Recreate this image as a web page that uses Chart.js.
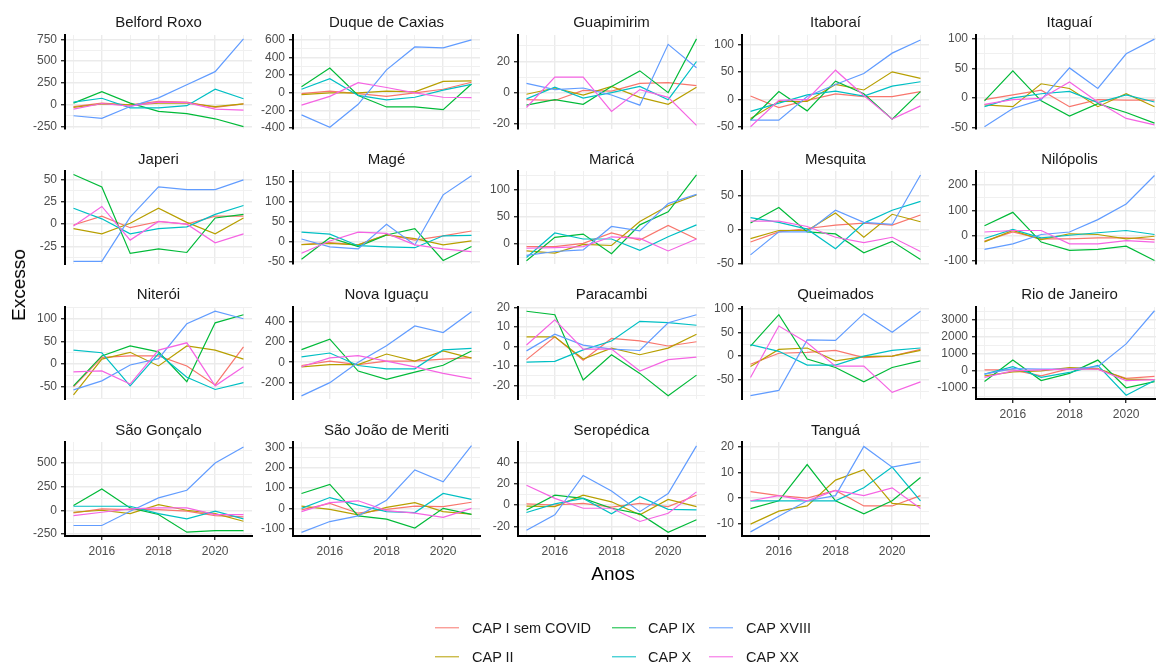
<!DOCTYPE html>
<html><head><meta charset="utf-8">
<script src="https://cdn.jsdelivr.net/npm/chart.js@4.4.0/dist/chart.umd.min.js"></script>
<style>
html,body{margin:0;padding:0;background:#fff;width:1156px;height:668px;overflow:hidden;position:relative;font-family:"Liberation Sans",Arial,sans-serif;}
canvas{position:absolute;}
.strip{position:absolute;font-size:15px;color:#1a1a1a;white-space:nowrap;transform:translate(-50%,-50%);}
.axt{position:absolute;font-size:19px;color:#000;white-space:nowrap;transform:translate(-50%,-50%);}
.lg{position:absolute;font-size:14.5px;color:#1a1a1a;white-space:nowrap;transform:translateY(-50%);}
.key{position:absolute;height:1.4px;width:24px;transform:translateY(-50%);}
</style></head><body>
<script>
// ---------------- DATA ----------------
const years = [2015, 2016, 2017, 2018, 2019, 2020, 2021];
const seriesNames = ["CAP I sem COVID", "CAP II", "CAP IX", "CAP X", "CAP XVIII", "CAP XX"];
const panelNames = ["Belford Roxo","Duque de Caxias","Guapimirim","Itaboraí","Itaguaí",
  "Japeri","Magé","Maricá","Mesquita","Nilópolis",
  "Niterói","Nova Iguaçu","Paracambi","Queimados","Rio de Janeiro",
  "São Gonçalo","São João de Meriti","Seropédica","Tanguá"];

// each panel: rows in seriesNames order, columns in years order
const belfordRoxo = [
  [-20, 20, 0, 40, 30, -30, 10],
  [-30, 10, 0, 20, 20, -20, 10],
  [20, 150, 20, -75, -100, -160, -250],
  [30, 75, -35, -35, -10, 180, 70],
  [-125, -155, -20, 80, 230, 380, 755],
  [-50, 15, -15, 30, 25, -50, -60]];
const duqueDeCaxias = [
  [-10, 20, -10, -40, 0, 40, 120],
  [-20, 0, 0, 20, 10, 130, 135],
  [70, 280, -30, -160, -160, -190, 100],
  [40, 160, -30, -80, -50, 30, 95],
  [-250, -390, -130, 260, 520, 510, 600],
  [-140, -40, 115, 60, 0, -50, -55]];
const guapimirim = [
  [-4.5, -5, 1.5, 1, 6, 6.5, 4.5],
  [-1, 3, -1.5, 4, -3, -7.5, 3.5],
  [-8, -4.5, -7.5, 4, 14, 0, 34.5],
  [-4, 3.5, -3.5, 0, 4, -4.5, 20],
  [6, 2, 3, -1.5, -8, 31, 16],
  [-9.5, 10, 10, -12, 2, -3, -21]];
const itaborai = [
  [6, -15, -2, 10, 5, 5, 14],
  [-35, -4, -4, 27, 17, 50, 38],
  [-38, 14, -21, 33, 10, -36, 14],
  [-22, -7, 8, 15, 6, 24, 32],
  [-38, -38, 5, 27, 47, 84, 108],
  [-50, -2, 0, 53, 7, -36, -12]];
const itaguai = [
  [-3, 5, 13, -15, -3, -4, -4],
  [-12, -15, 24, 16, -15, 7, -15],
  [-5, 46, -5, -31, -10, -25, -43],
  [-15, 0, 7, 11, -8, 5, -7],
  [-49, -18, -3, 51, 16, 75, 100],
  [-11, -3, -1, 27, -7, -35, -46]];
const japeri = [
  [-1, 9, -4, 3, 0, 9, 9],
  [-5, -11, 1, 18, 2, -11, 7],
  [56, 42, -33, -28, -32, 7, 11],
  [18, 6, -11, -5, -3, 11, 21],
  [-42, -42, 8, 42, 39, 39, 50],
  [-2, 20, -18, 3, 0, -21, -11]];
const mage = [
  [-7, -2, -8, 18, 4, 15, 27],
  [-7, -4, -8, 17, 8, -8, 2],
  [-44, 10, -12, 17, 33, -47, -12],
  [24, 19, -10, -13, -15, 15, 16],
  [7, -13, -18, 44, -8, 118, 166],
  [-29, 2, 24, 21, -8, -18, -25]];
const marica = [
  [-5, -5, 1, 20, 7, 34, 9],
  [-13, -17, -1, -3, 41, 70, 90],
  [-31, 12, 18, -18, 35, 59, 127],
  [-25, 20, 9, 9, -12, 13, 35],
  [-21, -14, -11, 32, 24, 74, 91],
  [-8, -7, -5, 13, 10, -13, 9]];
const mesquita = [
  [-18, -3, 2, 7, 10, 7, 22],
  [-13, -1, -1, 25, -11, 23, 12],
  [10, 33, -3, -6, -34, -17, -44],
  [18, 11, 1, -28, 10, 29, 42],
  [-37, -3, -3, 29, 11, 8, 81],
  [13, 13, 5, -11, -19, -11, -32]];
const nilopolis = [
  [-22, 14, -13, -13, -9, -9, -16],
  [-25, 20, -16, 7, 4, -13, -3],
  [39, 92, -26, -59, -55, -42, -99],
  [-12, 24, -9, 1, 11, 20, 4],
  [-55, -33, 4, 14, 63, 125, 238],
  [14, 20, 20, -33, -33, -20, -26]];
const niteroi = [
  [-50, 15, 18, 18, -4, -46, 38],
  [-68, 11, 26, -4, 40, 31, 11],
  [-48, 18, 40, 27, -39, 91, 109],
  [31, 25, -48, 23, -29, -56, -41],
  [-57, -37, -2, 12, 89, 117, 100],
  [-17, -15, -44, 31, 47, -48, -6]];
const novaIguacu = [
  [-32, 10, -23, 10, 10, 30, 45],
  [-45, -23, -23, 80, 10, 110, 40],
  [123, 226, -87, -168, -97, -30, 110],
  [52, 90, -32, -65, -65, 120, 135],
  [-329, -200, 0, 161, 355, 290, 494],
  [-45, 42, 65, 10, -45, -110, -160]];
const paracambi = [
  [-6.7, 5, -7, 4.2, 2.9, 0.3, 2.5],
  [5, 5, -6.4, -0.8, -4.2, -0.8, 6.4],
  [18.2, 16.4, -17.2, -4.2, -13.8, -25.3, -14.7],
  [-8, -7.6, -1.7, 2.9, 13, 12.3, 11],
  [-2.2, 6.4, 0.8, -1.3, -2, 12.3, 16.4],
  [0.8, 13.8, -1.3, -1.3, -12.6, -6.7, -5.4]];
const queimados = [
  [-17, 6, 8, 12, -3, 0, 14],
  [-22, 14, 17, -10, -1, 0, 12],
  [21, 87, -6, -24, -54, -24, -10],
  [24, 10, -19, -19, 0, 12, 17],
  [-83, -72, 34, 33, 89, 50, 94],
  [-45, 63, 28, -21, -21, -76, -54]];
const rioDeJaneiro = [
  [60, 60, -290, 130, 95, -440, -320],
  [-290, -60, 0, 190, 130, -480, -510],
  [-630, 630, -570, -150, 630, -990, -630],
  [-190, 250, -380, -95, 320, -1430, -570],
  [-190, 133, 95, 95, 248, 1580, 3520],
  [-380, 0, 60, 95, 95, -570, -510]];
const saoGoncalo = [
  [-28, 14, 7, 7, -10, -56, -70],
  [-21, 0, -35, 59, 0, -35, -115],
  [49, 223, 24, -45, -230, -213, -213],
  [42, 42, 42, -35, -91, -10, -91],
  [-160, -160, -10, 129, 209, 495, 663],
  [-56, -21, 14, 24, 24, -45, -45]];
const saoJoaoDeMeriti = [
  [-8, 24, -24, -5, 11, 8, 30],
  [11, -5, -32, 5, 28, -16, -29],
  [73, 118, -37, -53, -97, 0, -30],
  [0, 53, 16, -16, -21, 73, 44],
  [-118, -65, -37, 40, 189, 130, 308],
  [-16, 28, 37, -11, -24, -44, 0]];
const seropedica = [
  [1, 0, 1.5, -2, 1.5, -1.5, 9.2],
  [-1, -1.5, 9.2, 3, -9.2, 5.2, -1.5],
  [-4.6, 9.2, 6.2, -3, -8.3, -25.5, -13.8],
  [-7, 1, 6.2, -8.3, 7.7, -4, -4.6],
  [-23.7, -9.2, 27.7, 13.2, -6.2, 10.8, 55.4],
  [18.5, 6.2, -3, -3, -15.4, -7.7, 12.3]];
const tangua = [
  [2.5, 1, 0, 3, -3, -3, 1],
  [-10, -5, -3, 7, 11, -2, -3],
  [-4, -1, 13, -1, -6, -1, 8],
  [-1, -1, -1, -1, 4, 12, -1],
  [-13, -7, -1, 1, 20, 12, 14],
  [-1, 1, -1, 3, 1, 4, -4]];

const panelValues = [belfordRoxo, duqueDeCaxias, guapimirim, itaborai, itaguai,
  japeri, mage, marica, mesquita, nilopolis,
  niteroi, novaIguacu, paracambi, queimados, rioDeJaneiro,
  saoGoncalo, saoJoaoDeMeriti, seropedica, tangua];

// y tick labels per panel
const yTicks = [
  [-250, 0, 250, 500, 750], [-400, -200, 0, 200, 400, 600], [-20, 0, 20], [-50, 0, 50, 100], [-50, 0, 50, 100],
  [-25, 0, 25, 50], [-50, 0, 50, 100, 150], [0, 50, 100], [-50, 0, 50], [-100, 0, 100, 200],
  [-50, 0, 50, 100], [-200, 0, 200, 400], [-20, -10, 0, 10, 20], [-50, 0, 50, 100], [-1000, 0, 1000, 2000, 3000],
  [-250, 0, 250, 500], [-100, 0, 100, 200, 300], [-20, 0, 20, 40], [-10, 0, 10, 20]];
// y axis limits per panel
const yLimits = [
  [-277, 800], [-410, 655], [-23.3, 37], [-54, 117], [-53, 107],
  [-45, 60], [-56, 178], [-37, 134], [-50.5, 87], [-113, 256],
  [-77, 126], [-360, 540], [-27, 20.4], [-90, 103], [-1650, 3740],
  [-270, 715], [-136, 326], [-29, 59], [-14.6, 21.7]];
const xTickLabels = [2016, 2018, 2020];

// ---------------- STYLE / LAYOUT ----------------
const colors = ["#F8766D", "#B79F00", "#00BA38", "#00BFC4", "#619CFF", "#F564E3"];
const colX = [65, 293, 518, 742, 976];
const rowTop = [35, 171, 307, 442];
const rowBottom = [129, 264, 399, 536];
const titleY = [21, 158, 293, 429];
const plotW = 187;
const FONT = "'Liberation Sans', Arial, sans-serif";

function addDiv(cls, text, x, y, extra) {
  const d = document.createElement('div');
  d.className = cls; d.textContent = text;
  d.style.left = x + 'px'; d.style.top = y + 'px';
  if (extra) Object.assign(d.style, extra);
  document.body.appendChild(d);
  return d;
}

function makePanel(idx) {
  const col = idx % 5, row = Math.floor(idx / 5);
  const hasX = (row === 3) || idx === 14;
  const axisX = colX[col];
  const top = rowTop[row], bottom = rowBottom[row];
  const plotH = bottom - top;
  const Ly = 60, padT = 10, padR = 6, padB = 4, Hx = hasX ? 28 : 0;
  const cv = document.createElement('canvas');
  const W = Ly + plotW + padR, H = padT + plotH + Hx + padB;
  cv.width = W; cv.height = H;
  cv.style.left = (axisX - Ly) + 'px';
  cv.style.top = (top - padT) + 'px';
  cv.style.width = W + 'px'; cv.style.height = H + 'px';
  document.body.appendChild(cv);

  const [ymin, ymax] = yLimits[idx];
  const majors = yTicks[idx];
  const step = majors.length > 1 ? majors[1] - majors[0] : 1;
  const all = [];
  if (majors[0] - step / 2 >= ymin) all.push(majors[0] - step / 2);
  majors.forEach((v, i) => {
    all.push(v);
    if (i < majors.length - 1) all.push(v + step / 2);
  });
  if (majors[majors.length - 1] + step / 2 <= ymax) all.push(majors[majors.length - 1] + step / 2);
  const majorSet = new Set(majors);
  const isMajY = v => majorSet.has(v);
  const isMajX = v => xTickLabels.includes(v);

  const vals = panelValues[idx];
  new Chart(cv, {
    type: 'line',
    data: {
      datasets: seriesNames.map((s, i) => ({
        label: s,
        data: years.map((yr, j) => ({ x: yr, y: vals[i][j] })),
        borderColor: colors[i],
        borderWidth: 1.2,
        pointRadius: 0,
        fill: false,
        tension: 0,
        order: 5 - i
      }))
    },
    options: {
      responsive: false, animation: false, events: [],
      layout: { padding: { top: padT, right: padR, bottom: padB, left: 0 } },
      plugins: { legend: { display: false }, tooltip: { enabled: false }, title: { display: false } },
      scales: {
        x: {
          type: 'linear', min: 2014.7, max: 2021.3,
          afterBuildTicks: s => { s.ticks = years.map(v => ({ value: v })); },
          afterFit: s => { s.height = Hx; s.paddingLeft = 0; s.paddingRight = 0; },
          grid: {
            color: c => (c.tick && isMajX(c.tick.value)) ? '#EBEBEB' : '#F0F0F0',
            lineWidth: c => (c.tick && isMajX(c.tick.value)) ? 1.4 : 1,
            drawTicks: hasX, tickLength: 4,
            tickColor: c => (c.tick && isMajX(c.tick.value)) ? '#333333' : 'rgba(0,0,0,0)'
          },
          border: { display: hasX, color: '#000', width: 2 },
          ticks: {
            display: hasX, autoSkip: false, maxRotation: 0, padding: 4,
            color: '#4D4D4D', font: { family: FONT, size: 12 },
            callback: v => isMajX(v) ? String(v) : ''
          }
        },
        y: {
          min: ymin, max: ymax,
          afterBuildTicks: s => { s.ticks = all.map(v => ({ value: v })); },
          afterFit: s => { s.width = Ly; s.paddingTop = 0; s.paddingBottom = 0; },
          grid: {
            color: c => (c.tick && isMajY(c.tick.value)) ? '#EBEBEB' : '#F0F0F0',
            lineWidth: c => (c.tick && isMajY(c.tick.value)) ? 1.4 : 1,
            tickLength: 4,
            tickColor: c => (c.tick && isMajY(c.tick.value)) ? '#333333' : 'rgba(0,0,0,0)'
          },
          border: { display: true, color: '#000', width: 2 },
          ticks: {
            autoSkip: false, padding: 4,
            color: '#4D4D4D', font: { family: FONT, size: 12 },
            callback: v => isMajY(v) ? String(v) : ''
          }
        }
      }
    }
  });
  addDiv('strip', panelNames[idx], axisX + plotW / 2, titleY[row]);
}

for (let i = 0; i < panelNames.length; i++) makePanel(i);

// axis titles
addDiv('axt', 'Excesso', 19, 285, { transform: 'translate(-50%,-50%) rotate(-90deg)' });
addDiv('axt', 'Anos', 613, 574);

// legend (column-major, 2 rows)
const legendKeyX = [435, 612, 709];
const legendTextX = [472, 648, 746];
const legendRowY = [628, 657];
seriesNames.forEach((s, i) => {
  const c = Math.floor(i / 2), r = i % 2;
  const k = addDiv('key', '', legendKeyX[c], legendRowY[r]);
  k.style.background = colors[i];
  addDiv('lg', s, legendTextX[c], legendRowY[r]);
});
</script>
</body></html>
